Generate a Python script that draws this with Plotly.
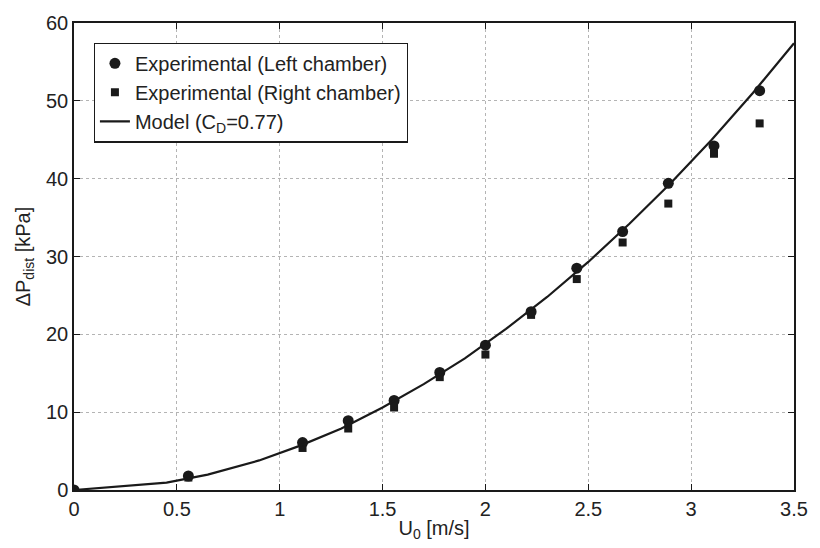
import plotly.graph_objects as go

# Data
u_exp = [0.0, 0.556, 1.111, 1.333, 1.556, 1.778, 2.0, 2.222, 2.444, 2.667, 2.889, 3.111, 3.333]
dp_left = [0.0, 1.8, 6.1, 8.9, 11.5, 15.1, 18.6, 22.9, 28.5, 33.2, 39.4, 44.2, 51.3]
dp_right = [0.0, 1.6, 5.4, 7.9, 10.6, 14.5, 17.4, 22.5, 27.1, 31.8, 36.8, 43.2, 47.1]

u_model = [0.0, 0.45, 0.65, 0.9, 1.1, 1.3, 1.5, 1.7, 1.9, 2.1, 2.3, 2.5, 2.7, 2.9, 3.1, 3.3, 3.5]
dp_model = [0.0, 0.95, 1.98, 3.8, 5.7, 7.9, 10.6, 13.6, 16.9, 20.7, 24.8, 29.3, 34.2, 39.4, 45.0, 51.0, 57.4]

x_ticks = [0, 0.5, 1, 1.5, 2, 2.5, 3, 3.5]
x_ticklabels = ["0", "0.5", "1", "1.5", "2", "2.5", "3", "3.5"]
y_ticks = [0, 10, 20, 30, 40, 50, 60]

ink = "#1a1a1a"
txt = "#222222"
font = "Liberation Sans, Arial, sans-serif"
fs = 20

fig = go.Figure()
fig.add_trace(go.Scatter(x=u_exp, y=dp_left, mode="markers", name="Experimental (Left chamber)",
                         marker=dict(symbol="circle", size=11, color=ink)))
fig.add_trace(go.Scatter(x=u_exp, y=dp_right, mode="markers", name="Experimental (Right chamber)",
                         marker=dict(symbol="square", size=8, color=ink)))
fig.add_trace(go.Scatter(x=u_model, y=dp_model, mode="lines", name="Model (C<sub>D</sub>=0.77)",
                         line=dict(color=ink, width=2.2)))

axis_common = dict(
    showline=True, linecolor=ink, linewidth=1.5, mirror="ticks",
    ticks="inside", ticklen=6, tickcolor=ink, tickwidth=1.2,
    showgrid=True, gridcolor="#b4b4b4", griddash="dot", gridwidth=1,
    zeroline=False, tickfont=dict(family=font, size=fs, color=txt),
)

fig.update_xaxes(range=[0, 3.5], tickvals=x_ticks, ticktext=x_ticklabels,
                 title=dict(text="U<sub>0</sub> [m/s]", font=dict(family=font, size=fs, color=txt), standoff=2),
                 **axis_common)
fig.update_yaxes(range=[0, 60], tickvals=y_ticks,
                 title=dict(text="ΔP<sub>dist</sub> [kPa]", font=dict(family=font, size=fs, color=txt), standoff=10),
                 **axis_common)

fig.update_layout(
    width=820, height=548,
    margin=dict(l=74, r=16, t=15, b=54),
    paper_bgcolor="white", plot_bgcolor="white",
    font=dict(family=font, size=fs, color=txt),
    legend=dict(x=0.0274, y=0.958, xanchor="left", yanchor="top",
                bordercolor=ink, borderwidth=1.2, bgcolor="white",
                font=dict(family=font, size=fs, color=txt),
                tracegroupgap=0, itemwidth=30),
    showlegend=True,
)

fig.write_html("out.html")
